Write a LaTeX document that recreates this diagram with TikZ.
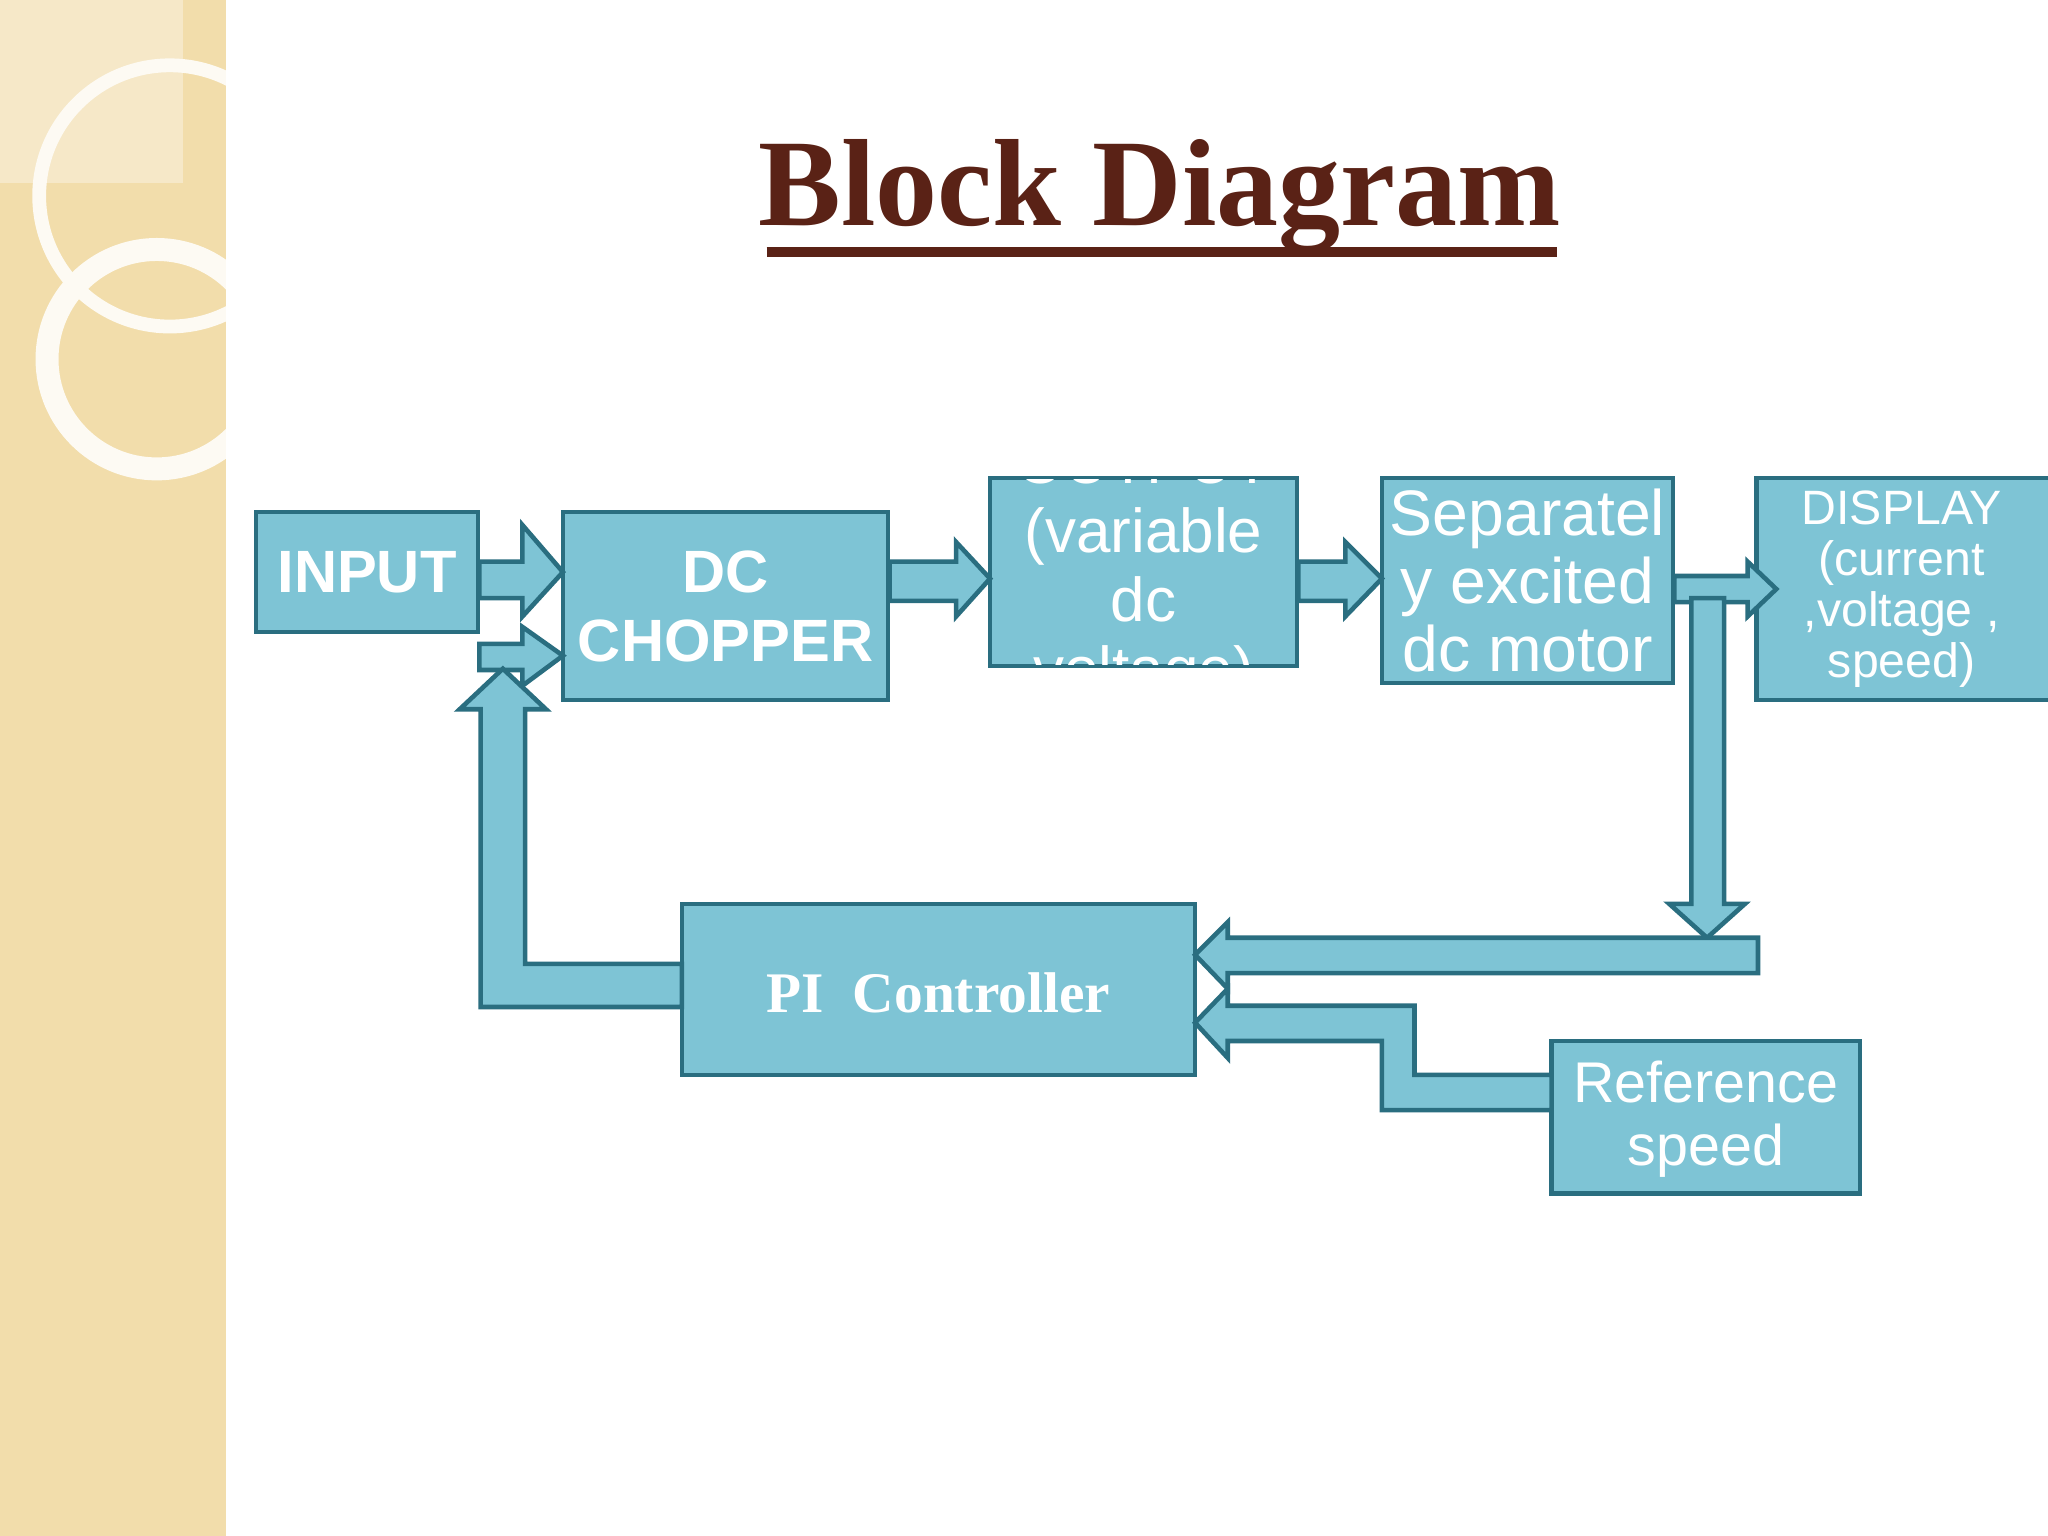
\documentclass[tikz,border=0pt]{standalone}
\usepackage{fontspec}
\setmainfont{Liberation Serif}
\newfontfamily\arialf{Liberation Sans}
\begin{document}
\begin{tikzpicture}[x=0.01cm,y=-0.01cm,
  blk/.style={draw=bord,fill=boxc,line width=1pt},
  arr/.style={draw=bord,fill=boxc,line width=1pt,line join=miter},
  wt/.style={text=white,align=center,font=\arialf}]
\definecolor{boxc}{HTML}{7EC4D5}
\definecolor{bord}{HTML}{2A6E80}
\definecolor{beige}{HTML}{F2DDAB}
\definecolor{ttl}{HTML}{5A2216}
\useasboundingbox (0,0) rectangle (1568,1176);
\fill[white] (0,0) rectangle (1568,1176);
\fill[beige] (0,0) rectangle (173,1176);
\fill[white,opacity=0.35] (0,0) rectangle (140,140);
\begin{scope}
\clip (0,0) rectangle (173,1176);
\draw[white!85!beige,line width=3pt] (130,150) circle (100);
\draw[white!85!beige,line width=5pt] (120,275) circle (84);
\end{scope}
% title
\node[font=\bfseries\fontsize{27}{32}\selectfont,text=ttl] (title) at (888,150) {Block Diagram};
\draw[ttl,line width=2pt] (587,193) -- (1192,193);
% boxes
\draw[blk] (196,392) rectangle (366,484);
\node[wt,font=\arialf\bfseries\fontsize{13}{15}\selectfont] (in) at (281,438) {INPUT};
\draw[blk] (431,392) rectangle (680,536);
\node[wt,font=\arialf\bfseries\fontsize{13}{15}\selectfont] (dc) at (555.5,464) {DC\\CHOPPER};
\draw[blk] (758,366) rectangle (993,510);
\begin{scope}
\clip (758,367) rectangle (993,509);
\node[wt,font=\arialf\fontsize{13.5}{15}\selectfont] (out) at (875.5,438) {OUTPUT\\(variable\\dc\\voltage)};
\end{scope}
\draw[blk] (1058,366) rectangle (1281,523);
\node[wt,font=\arialf\fontsize{14}{14.8}\selectfont] (mot) at (1169.5,444.5) {Separatel\\y excited\\dc motor};
\draw[blk] (1345,366) rectangle (1585,536);
\node[wt,font=\arialf\fontsize{10.5}{11.1}\selectfont] (disp) at (1456,451) {DISPLAY\\(current\\,voltage ,\\speed)};
\draw[blk] (522,692) rectangle (915,823);
\node[text=white,font=\bfseries\fontsize{12.5}{14}\selectfont] (pi) at (718.5,760) {PI\ \ Controller};
\draw[blk] (1188,797) rectangle (1424,914);
\node[wt,font=\arialf\fontsize{12.5}{13.7}\selectfont] (ref) at (1306,857) {Reference\\speed};
% block arrows
\draw[arr] (367,430)--(400,430)--(400,402)--(431,438)--(400,472)--(400,458)--(367,458)--cycle;
\draw[arr] (367,493)--(400,493)--(400,480)--(431,502)--(400,525)--(400,513)--(367,513)--cycle;
\draw[arr] (681,430)--(732,430)--(732,415)--(758,443)--(732,472)--(732,460)--(681,460)--cycle;
\draw[arr] (994,430)--(1030,430)--(1030,415)--(1058,443)--(1030,472)--(1030,460)--(994,460)--cycle;
\draw[arr] (1282,441)--(1338,441)--(1338,430)--(1360,451)--(1338,472)--(1338,461)--(1282,461)--cycle;
\draw[arr] (1295,458)--(1320,458)--(1320,692)--(1336,692)--(1307,718)--(1278,692)--(1295,692)--cycle;
\draw[arr] (1346,718)--(1346,745)--(940,745)--(940,757)--(915,731)--(940,706)--(940,718)--cycle;
\draw[arr] (1188,823)--(1083,823)--(1083,770)--(940,770)--(940,757)--(915,783)--(940,810)--(940,797)--(1058,797)--(1058,850)--(1188,850)--cycle;
\draw[arr] (522,738)--(402,738)--(402,543)--(418,543)--(385,512)--(352,543)--(368,543)--(368,771)--(522,771)--cycle;
\end{tikzpicture}
\end{document}
